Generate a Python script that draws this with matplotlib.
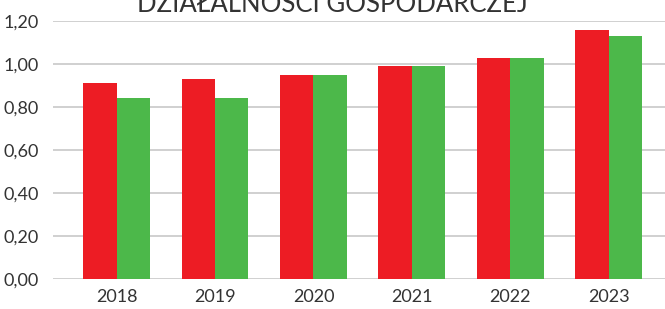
import numpy as np
import matplotlib
matplotlib.use("Agg")
from matplotlib import pyplot as plt

years = ["2018", "2019", "2020", "2021", "2022", "2023"]
red_values = [0.91, 0.93, 0.95, 0.99, 1.03, 1.16]
green_values = [0.84, 0.84, 0.95, 0.99, 1.03, 1.13]
y_ticks = [0.0, 0.2, 0.4, 0.6, 0.8, 1.0, 1.2]

plt.rcParams["font.family"] = ["Lato", "DejaVu Sans"]

fig = plt.figure(figsize=(6.65, 3.09), dpi=100)
ax = fig.add_axes([53 / 665, 1 - 279 / 309, 1 - 53 / 665, 258 / 309])

x = np.arange(len(years))
w = 0.34
ax.bar(x - w / 2, red_values, w, color="#ed1c24", zorder=3)
ax.bar(x + w / 2, green_values, w, color="#4cb84a", zorder=3)

ax.set_xlim(-0.645, 5.57)
ax.set_ylim(0, 1.2)
ax.set_yticks(y_ticks)
ax.set_yticklabels([f"{v:.2f}".replace(".", ",") for v in y_ticks])
ax.set_xticks(x)
ax.set_xticklabels(years)
ax.yaxis.grid(True, color="#c8c8c8", linewidth=1.2, zorder=0)
ax.tick_params(length=0, labelsize=13, colors="#333333", pad=7)
ax.tick_params(axis="y", pad=10)
for s in ax.spines.values():
    s.set_visible(False)

fig.text(0.5, 1 - 12 / 309, "DZIAŁALNOŚCI GOSPODARCZEJ", ha="center", va="baseline",
         fontsize=18.5, color="#333333")

fig.savefig("out.png", dpi=100)
